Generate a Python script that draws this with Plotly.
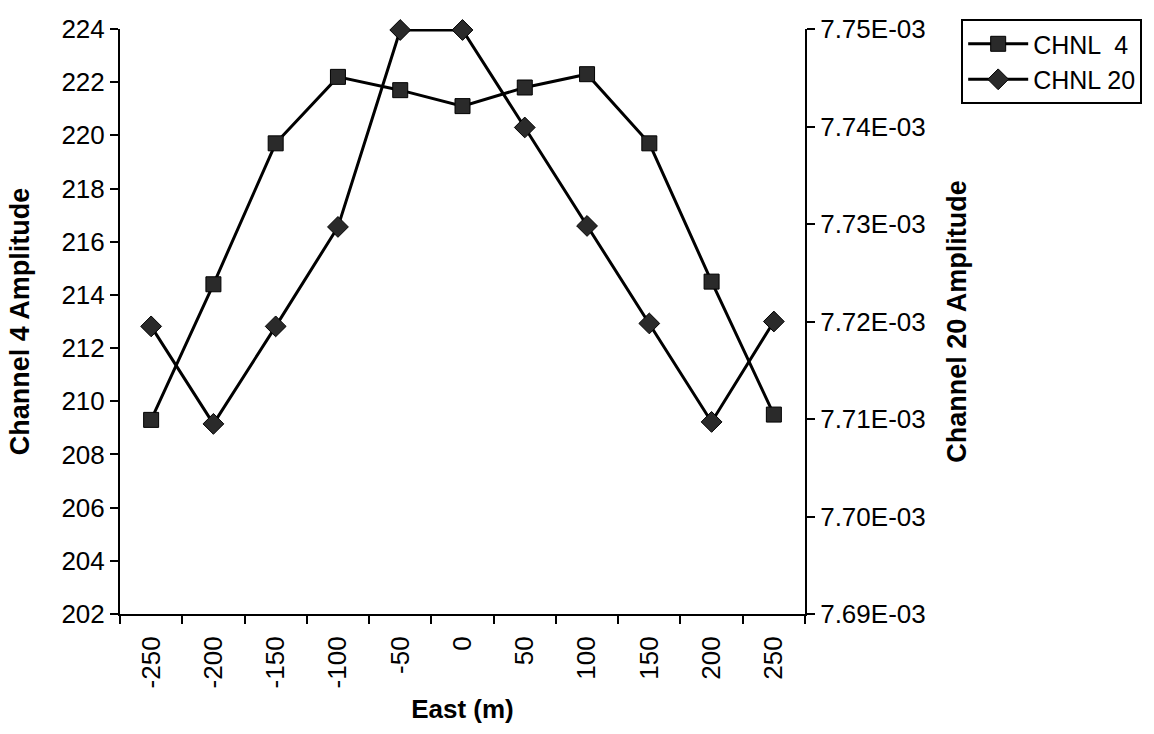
import plotly.graph_objects as go

# Survey line positions (m) and channel amplitudes
east = [-250, -200, -150, -100, -50, 0, 50, 100, 150, 200, 250]
chnl4 = [209.3, 214.4, 219.7, 222.2, 221.7, 221.1, 221.8, 222.3, 219.7, 214.5, 209.5]
chnl20 = [7.7195e-3, 7.7095e-3, 7.7195e-3, 7.7297e-3, 7.7499e-3, 7.7499e-3,
          7.7399e-3, 7.7298e-3, 7.7198e-3, 7.7097e-3, 7.7200e-3]

# Axis settings
left_range = [202, 224]
left_step = 2
right_ticks = [7.69e-3, 7.70e-3, 7.71e-3, 7.72e-3, 7.73e-3, 7.74e-3, 7.75e-3]
right_labels = [f"{v:.2E}" for v in right_ticks]

FONT = "Liberation Sans, Arial, sans-serif"
BLACK = "#000000"
MARK = "#2a2a2a"
TICK_SIZE = 26
TITLE_SIZE = 26
VTITLE_SIZE = 27

xlabels = [str(v) for v in east]
xpos = list(range(len(east)))
bounds = [i - 0.5 for i in range(len(east) + 1)]
xr = [bounds[0], bounds[-1]]

fig = go.Figure()
fig.add_trace(go.Scatter(
    x=xpos, y=chnl4, name="CHNL  4", mode="lines+markers",
    line=dict(color=BLACK, width=3),
    marker=dict(symbol="square", size=15, color=MARK, line=dict(color=BLACK, width=1)),
    cliponaxis=False, xaxis="x", yaxis="y",
))
fig.add_trace(go.Scatter(
    x=xpos, y=chnl20, name="CHNL 20", mode="lines+markers",
    line=dict(color=BLACK, width=3),
    marker=dict(symbol="diamond", size=16, color=MARK, line=dict(color=BLACK, width=1)),
    cliponaxis=False, xaxis="x", yaxis="y2",
))

axis_common = dict(showgrid=False, zeroline=False, linecolor=BLACK,
                   tickcolor=BLACK, tickwidth=2, ticklen=8,
                   tickfont=dict(family=FONT, size=TICK_SIZE, color=BLACK))

fig.update_layout(
    width=1154, height=734,
    margin=dict(l=120, r=346, t=29, b=120),
    paper_bgcolor="white", plot_bgcolor="white",
    font=dict(family=FONT, size=TICK_SIZE, color=BLACK),
    showlegend=True,
    legend=dict(x=1.228, y=1.017, xanchor="left", yanchor="top",
                bordercolor=BLACK, borderwidth=2, bgcolor="white",
                font=dict(family=FONT, size=25, color=BLACK),
                tracegroupgap=0, itemwidth=60),
    xaxis=dict(
        **axis_common, range=xr, tickmode="array", tickvals=xpos, ticktext=xlabels,
        ticks="", tickangle=-90, showline=True, linewidth=2, ticklabelstandoff=10,
        minor=dict(tickmode="array", tickvals=bounds, ticks="outside",
                   ticklen=8, tickwidth=2, tickcolor=BLACK, showgrid=False),
        title=dict(text="<b>East (m)</b>", font=dict(size=TITLE_SIZE), standoff=12),
        anchor="y", fixedrange=True,
    ),
    xaxis2=dict(
        **axis_common, range=xr, overlaying="x", anchor="y", side="bottom",
        showticklabels=False, ticks="", showline=False,
        minor=dict(tickmode="array", tickvals=bounds, ticks="inside",
                   ticklen=8, tickwidth=2, tickcolor=BLACK, showgrid=False),
    ),
    yaxis=dict(
        **axis_common, range=left_range, dtick=left_step, tick0=left_range[0],
        ticks="outside", showline=True, linewidth=2,
        title=dict(text="<b>Channel 4 Amplitude</b>", font=dict(size=VTITLE_SIZE), standoff=24),
        anchor="x",
    ),
    yaxis3=dict(
        **axis_common, range=left_range, dtick=left_step, tick0=left_range[0],
        ticks="inside", showticklabels=False, showline=False,
        overlaying="y", anchor="x", side="left",
    ),
    yaxis2=dict(
        **axis_common, range=[right_ticks[0], right_ticks[-1]],
        tickmode="array", tickvals=right_ticks, ticktext=right_labels,
        ticks="outside", showline=True, linewidth=2,
        overlaying="y", side="right", anchor="x",
        title=dict(text="<b>Channel 20 Amplitude</b>", font=dict(size=VTITLE_SIZE), standoff=22),
    ),
    yaxis4=dict(
        **axis_common, range=[right_ticks[0], right_ticks[-1]],
        tickmode="array", tickvals=right_ticks, ticks="inside",
        showticklabels=False, showline=False,
        overlaying="y", side="right", anchor="x",
    ),
)

fig.write_html("out.html")
